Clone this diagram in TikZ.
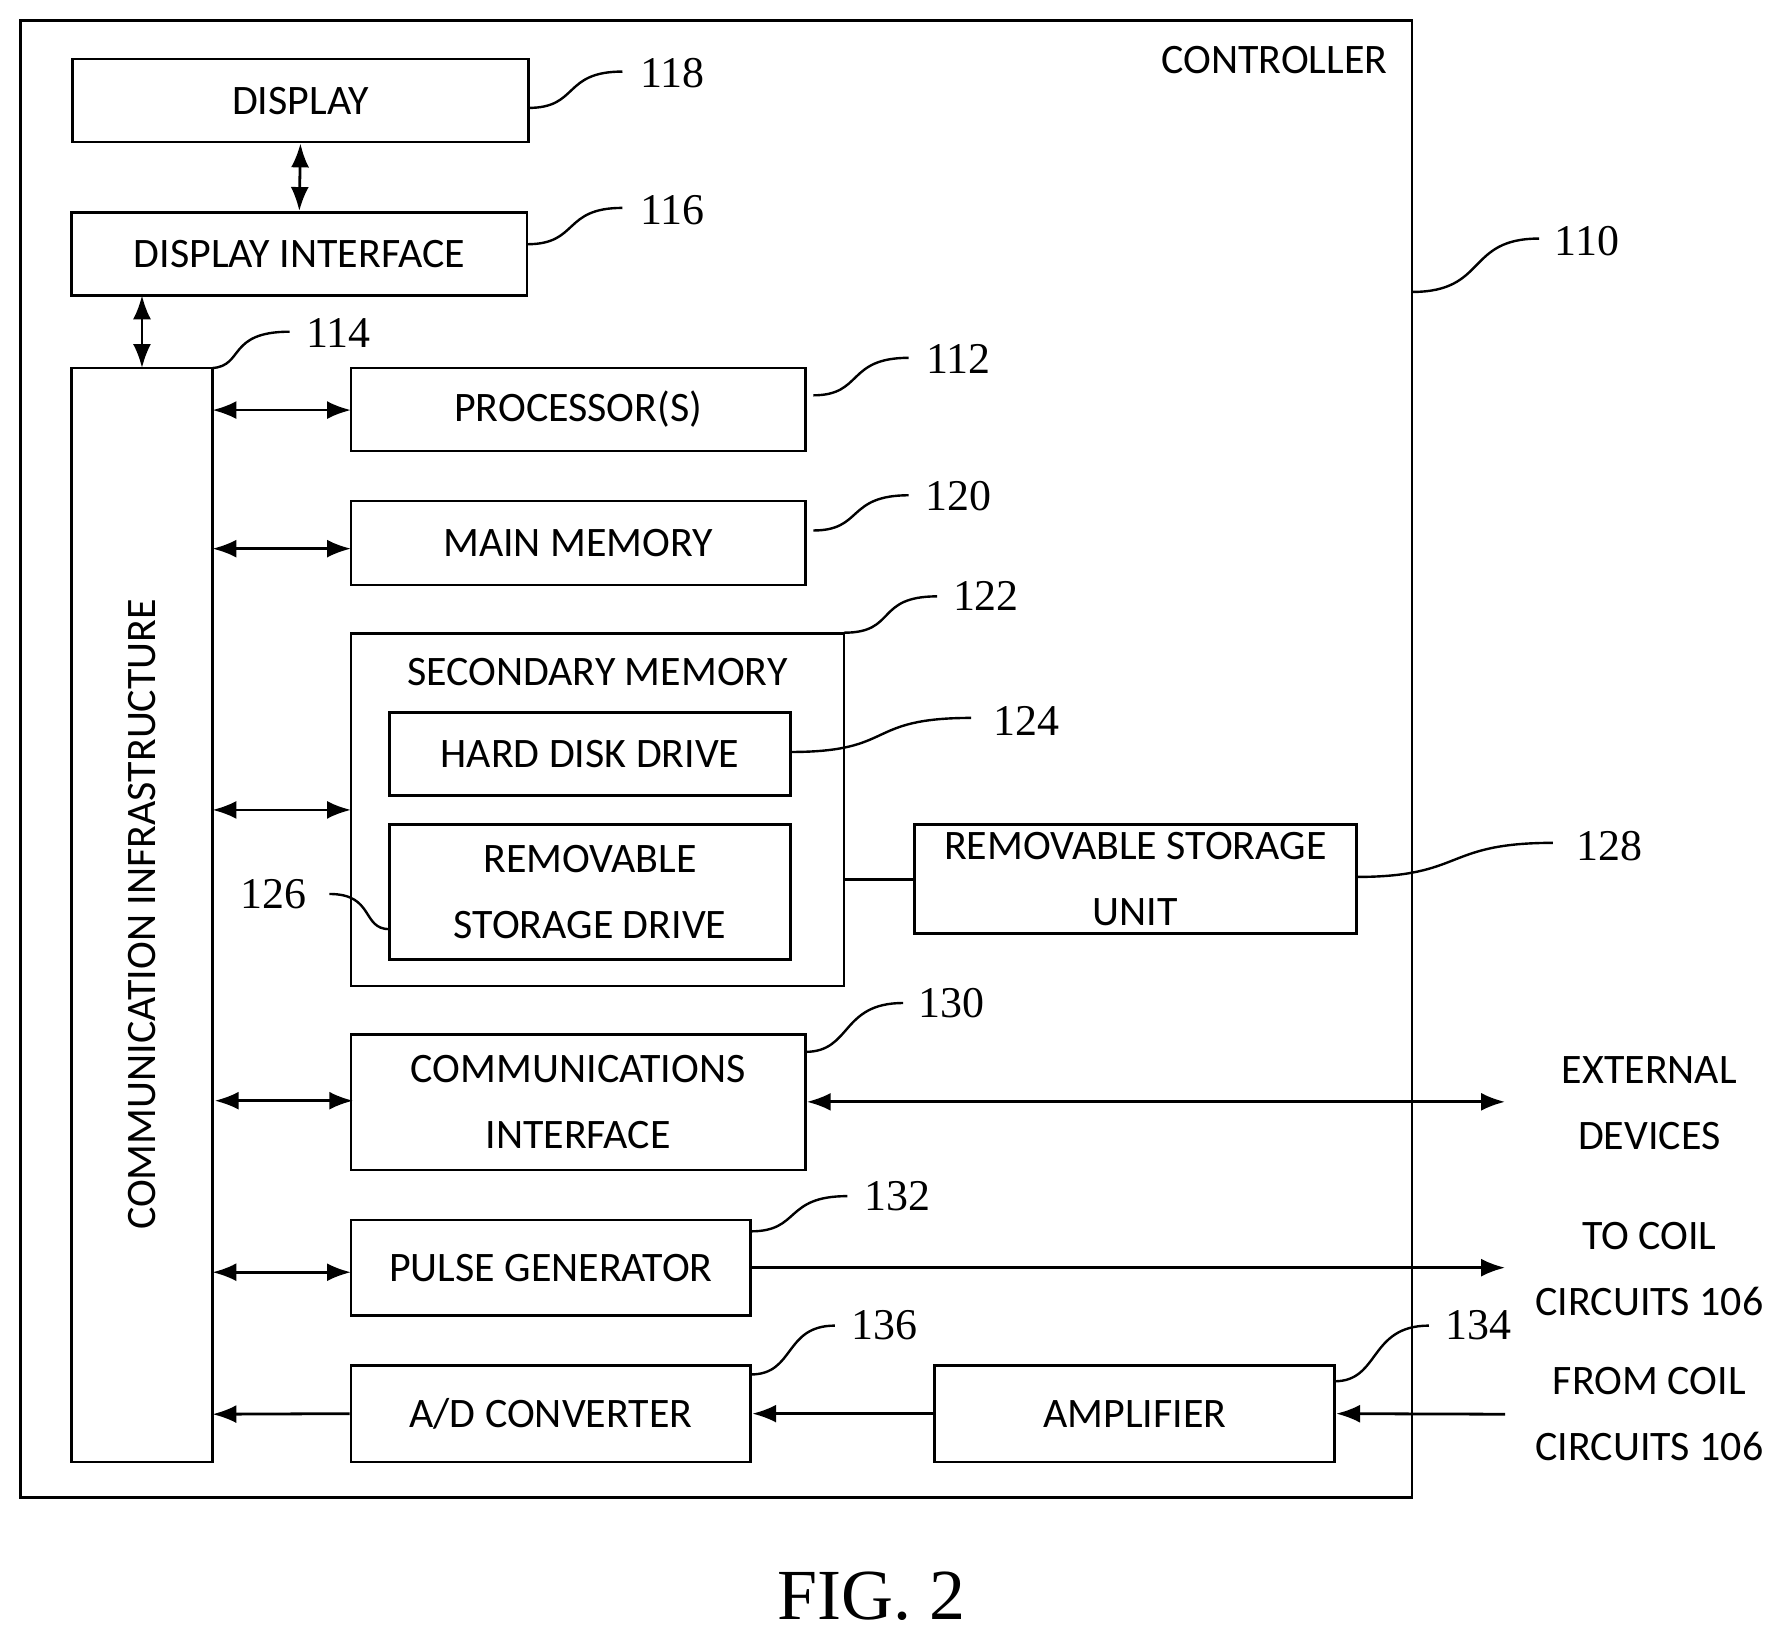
\documentclass[tikz,border=0pt]{standalone}
\usepackage{fontspec}
\setmainfont{Liberation Serif}
\newfontfamily\lab{Carlito}
\usetikzlibrary{arrows.meta}
\tikzset{x=0.01cm,y=-0.01cm,
 box/.style={draw,line width=0.7pt,inner sep=0pt,align=center,font=\lab\fontsize{10.5}{12.5}\selectfont},
 num/.style={font=\fontsize{11}{13}\selectfont,inner sep=1pt},
 lbl/.style={font=\lab\fontsize{10.5}{12.5}\selectfont,align=center},
 ld/.style={line width=0.6pt},
 bi/.style={line width=0.7pt,{Latex[length=6pt,width=4.5pt]}-{Latex[length=6pt,width=4.5pt]}},
 uni/.style={line width=0.7pt,-{Latex[length=6pt,width=4.5pt]}}}
\newcommand\bx[6]{%
 \pgfmathsetmacro\bw{(#4-#2)*0.01}\pgfmathsetmacro\bh{(#5-#3)*0.01}%
 \node[box,minimum width=\bw cm,minimum height=\bh cm] (#1) at ({(#2+#4)/2},{(#3+#5)/2}) {#6};}
\begin{document}
\begin{tikzpicture}
\useasboundingbox (0,0) rectangle (1560,1438);
\draw[line width=0.7pt] (18,18) rectangle (1243,1318);
\node[lbl] (ctl) at (1122,53) {CONTROLLER};
\bx{disp}{64}{52}{465}{125}{DISPLAY}
\bx{di}{63}{187}{464}{260}{DISPLAY INTERFACE}
\bx{ci}{63}{324}{187}{1287}{}
\node[lbl,rotate=90] (citxt) at (125,805) {COMMUNICATION INFRASTRUCTURE};
\bx{proc}{309}{324}{709}{397}{PROCESSOR(S)}
\bx{mm}{309}{441}{709}{515}{MAIN MEMORY}
\bx{sm}{309}{558}{743}{868}{}
\node[lbl] (smt) at (526,592) {SECONDARY MEMORY};
\bx{hdd}{343}{627}{696}{700}{HARD DISK DRIVE}
\bx{rsd}{343}{726}{696}{845}{REMOVABLE\\[4pt]STORAGE DRIVE}
\bx{rsu}{805}{726}{1194}{822}{REMOVABLE STORAGE\\[4pt]UNIT}
\bx{cif}{309}{911}{709}{1030}{COMMUNICATIONS\\[4pt]INTERFACE}
\bx{pg}{309}{1074}{661}{1158}{PULSE GENERATOR}
\bx{ad}{309}{1202}{661}{1287}{A/D CONVERTER}
\bx{amp}{823}{1202}{1175}{1287}{AMPLIFIER}
\node[lbl] (ext) at (1452,971) {EXTERNAL\\[4pt]DEVICES};
\node[lbl] (to) at (1452,1117) {TO COIL\\[4pt]CIRCUITS 106};
\node[lbl] (from) at (1452,1245) {FROM COIL\\[4pt]CIRCUITS 106};
\coordinate (extE) at (1325,970);
\coordinate (toE) at (1325,1116);
\coordinate (fromE) at (1325,1245);
\draw[bi] (disp.south) -- (di.north);
\draw[bi] (125,260) -- (125,324);
\draw[bi] (187,361) -- (309,361);
\draw[bi] (187,483) -- (309,483);
\draw[bi] (187,713) -- (309,713);
\draw[bi] (189,969) -- (311,969);
\draw[bi] (187,1120) -- (309,1120);
\draw[uni] (ad.west) -- (187,1245);
\draw[uni] (amp.west) -- (ad.east);
\draw[uni] (fromE) -- (amp.east);
\draw[uni] (pg.east |- toE) -- (toE);
\draw[bi] (cif.east |- extE) -- (extE);
\draw[line width=0.7pt] (743,774) -- (rsu.west |- 0,774);
\node[num] (n118) at (592,64) {118};
\draw[ld] (465,95) .. controls (510,95) and (495,63) .. (548,63);
\node[num] (n116) at (592,185) {116};
\draw[ld] (464,215) .. controls (510,215) and (495,183) .. (548,183);
\node[num] (n114) at (298,293) {114};
\draw[ld] (187,324) .. controls (215,322) and (200,292) .. (255,292);
\node[num] (n112) at (844,316) {112};
\draw[ld] (716,348) .. controls (760,348) and (745,315) .. (800,315);
\node[num] (n120) at (844,437) {120};
\draw[ld] (716,467) .. controls (760,467) and (745,436) .. (800,436);
\node[num] (n122) at (868,525) {122};
\draw[ld] (743,557) .. controls (790,557) and (770,525) .. (825,525);
\node[num] (n124) at (904,635) {124};
\draw[ld] (696,662) .. controls (790,662) and (760,632) .. (855,632);
\node[num] (n126) at (241,787) {126};
\draw[ld] (290,787) .. controls (330,787) and (318,818) .. (343,818);
\node[num] (n128) at (1417,745) {128};
\draw[ld] (1194,772) .. controls (1290,772) and (1270,742) .. (1367,742);
\node[num] (n110) at (1397,212) {110};
\draw[ld] (1243,257) .. controls (1310,257) and (1290,210) .. (1355,210);
\node[num] (n130) at (838,883) {130};
\draw[ld] (709,926) .. controls (750,926) and (740,883) .. (795,883);
\node[num] (n132) at (790,1053) {132};
\draw[ld] (661,1084) .. controls (705,1084) and (690,1053) .. (746,1053);
\node[num] (n136) at (779,1167) {136};
\draw[ld] (661,1210) .. controls (700,1210) and (690,1167) .. (735,1167);
\node[num] (n134) at (1302,1167) {134};
\draw[ld] (1175,1216) .. controls (1215,1216) and (1205,1167) .. (1258,1167);
\node[font=\fontsize{18}{22}\selectfont] (fig) at (767,1405) {FIG. 2};
\end{tikzpicture}
\end{document}
